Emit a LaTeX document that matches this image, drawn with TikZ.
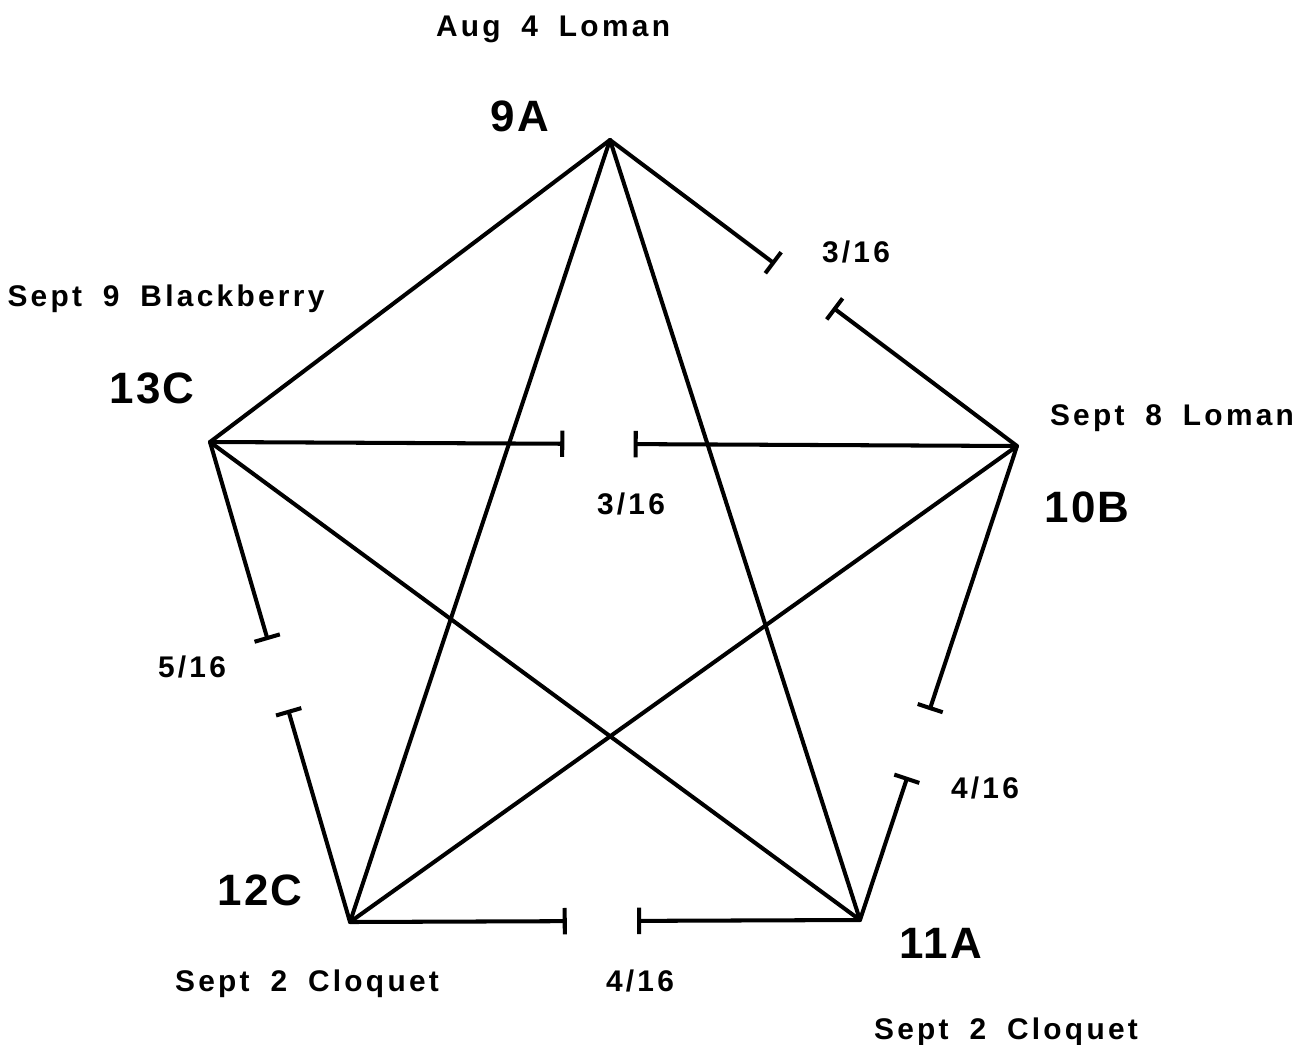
\documentclass[tikz,border=0pt]{standalone}
\usepackage{fontspec}
\setmainfont{Liberation Sans}
\newfontfamily\datefont{Liberation Sans}[LetterSpace=11, WordSpace=1.8]
\newfontfamily\sitefont{Liberation Sans}[LetterSpace=5]
\usetikzlibrary{arrows.meta, calc}

\begin{document}
\begin{tikzpicture}[x=0.02cm, y=-0.02cm,
  edge/.style={line width=2.3pt, line cap=round},
  cut/.style={line width=2.3pt, -{Bar[width=15pt]}},
  site/.style={anchor=base, inner sep=0pt, font=\sitefont\bfseries\fontsize{25}{30}\selectfont},
  date/.style={anchor=base, inner sep=0pt, font=\datefont\bfseries\fontsize{17}{20}\selectfont}]
\useasboundingbox (0,0) rectangle (1293,1044);

% sample sites
\coordinate (n9A) at (610,140);
\coordinate (n10B) at (1017,446);
\coordinate (n11A) at (860,920);
\coordinate (n12C) at (350,922);
\coordinate (n13C) at (210,442);

\node[site] (l9A) at (520,132) {9A};
\node[site] (l10B) at (1087,522) {10B};
\node[site] (l11A) at (941,958) {11A};
\node[site] (l12C) at (260,905) {12C};
\node[site] (l13C) at (152,403) {13C};

\node[date] (d9A) at (553,37) {Aug 4 Loman};
\node[date] (d10B) at (1172,425) {Sept 8 Loman};
\node[date] (d11A) at (1006,1039) {Sept 2 Cloquet};
\node[date] (d12C) at (307,991) {Sept 2 Cloquet};
\node[date] (d13C) at (166,306) {Sept 9 Blackberry};

% full lines
\draw[edge] (n9A) -- (n13C);
\draw[edge] (n9A) -- (n12C);
\draw[edge] (n9A) -- (n11A);
\draw[edge] (n10B) -- (n12C);
\draw[edge] (n13C) -- (n11A);

% broken lines
\coordinate (g1a) at ($(n9A)!0.405!(n10B)$);
\coordinate (g1b) at ($(n9A)!0.548!(n10B)$);
\coordinate (g2a) at ($(n13C)!0.439!(n10B)$);
\coordinate (g2b) at ($(n13C)!0.525!(n10B)$);
\coordinate (g3a) at ($(n13C)!0.4125!(n12C)$);
\coordinate (g3b) at ($(n13C)!0.558!(n12C)$);
\coordinate (g4a) at ($(n12C)!0.425!(n11A)$);
\coordinate (g4b) at ($(n12C)!0.563!(n11A)$);
\coordinate (g5a) at ($(n10B)!0.557!(n11A)$);
\coordinate (g5b) at ($(n10B)!0.698!(n11A)$);

\draw[cut] (n9A) -- (g1a);
\draw[cut] (n10B) -- (g1b);
\draw[cut] (n13C) -- (g2a);
\draw[cut] (n10B) -- (g2b);
\draw[cut] (n13C) -- (g3a);
\draw[cut] (n12C) -- (g3b);
\draw[cut] (n12C) -- (g4a);
\draw[cut] (n11A) -- (g4b);
\draw[cut] (n10B) -- (g5a);
\draw[cut] (n11A) -- (g5b);

\node[date] (f1) at (856,262) {3/16};
\node[date] (f2) at (631,514) {3/16};
\node[date] (f3) at (192,677) {5/16};
\node[date] (f4) at (640,991) {4/16};
\node[date] (f5) at (985,798) {4/16};
\end{tikzpicture}
\end{document}
